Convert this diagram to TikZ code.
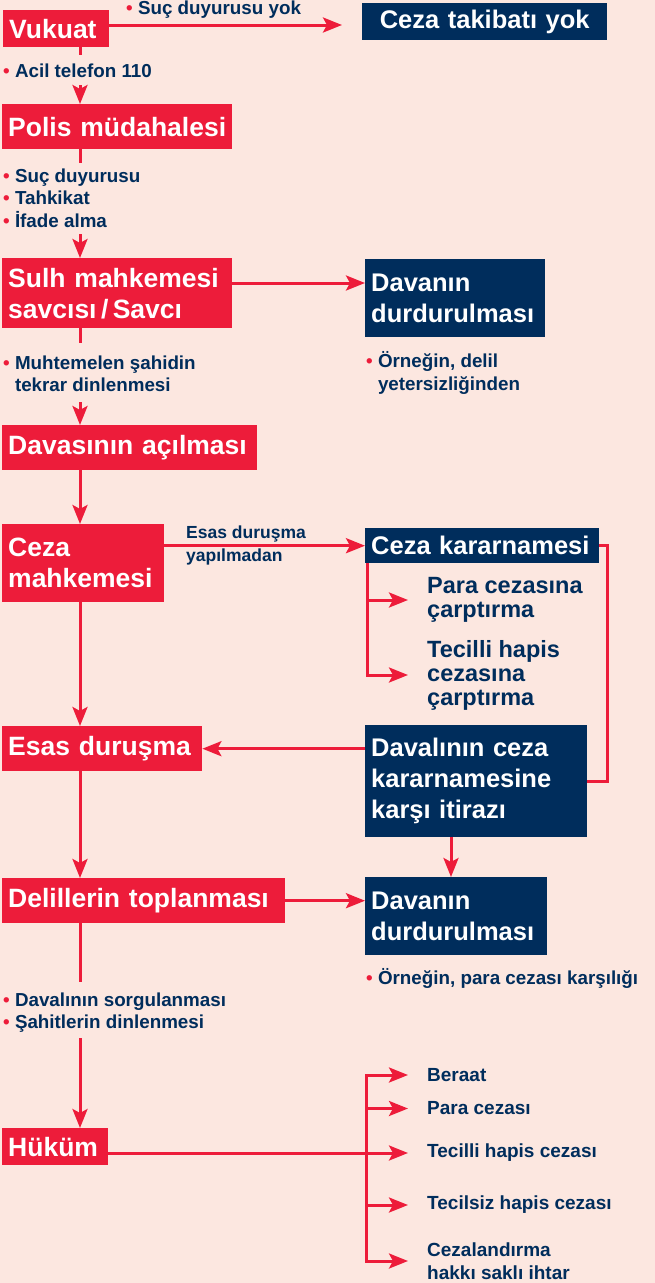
\documentclass[tikz,border=0pt]{standalone}
\usepackage{fontspec}
\setmainfont{Liberation Sans}
\usetikzlibrary{arrows.meta}
\definecolor{cezared}{RGB}{237,28,58}
\definecolor{cezanavy}{RGB}{0,45,92}
\definecolor{cezabg}{RGB}{252,231,224}
\newcommand{\bul}{\textcolor{cezared}{\textbullet}\ }
\tikzset{
  cezatip/.tip={Stealth[length=19pt,width=15pt,inset=4pt]},
  redbox/.style={fill=cezared,text=white,anchor=north west,inner xsep=6pt,inner ysep=0pt,
    align=left,font=\bfseries\fontsize{26.5}{31}\selectfont},
  navybox/.style={redbox,fill=cezanavy,font=\bfseries\fontsize{25.5}{31}\selectfont},
  note/.style={anchor=west,inner sep=0pt,text=cezanavy,align=left,
    font=\bfseries\fontsize{18.8}{22.5}\selectfont},
  result/.style={note,font=\bfseries\fontsize{19}{23}\selectfont},
  bigresult/.style={note,font=\bfseries\fontsize{23.5}{24}\selectfont},
  link/.style={draw=cezared,line width=3pt},
  arr/.style={link,-cezatip},
  arrs/.style={link,cezatip-cezatip}
}
\hyphenpenalty=10000
\begin{document}
\begin{tikzpicture}[x=1pt,y=-1pt]
\useasboundingbox (0,0) rectangle (655,1283);
\fill[cezabg] (0,0) rectangle (655,1283);
% left column
\node[redbox,text width=94pt,minimum height=37pt] (vukuat) at (3,10) {Vukuat};
\node[redbox,text width=218pt,minimum height=45pt] (polis) at (2,104) {Polis müdahalesi};
\node[redbox,text width=218pt,minimum height=70pt] (savci) at (2,258) {Sulh mahkemesi\\savcısı\,/\,Savcı};
\node[redbox,text width=243pt,minimum height=45pt] (acilma) at (2,425) {Davasının açılması};
\node[redbox,text width=150pt,minimum height=78pt] (cezamah) at (2,524) {Ceza\\mahkemesi};
\node[redbox,text width=188pt,minimum height=45pt] (esas) at (2,726) {Esas duruşma};
\node[redbox,text width=271pt,minimum height=45pt] (delil) at (2,878) {Delillerin toplanması};
\node[redbox,text width=94pt,minimum height=37pt] (hukum) at (2,1128) {Hüküm};
% right column
\node[navybox,text width=233pt,minimum height=37pt,align=center] (takibat) at (362,3) {Ceza takibatı yok};
\node[navybox,text width=168pt,minimum height=78pt] (durdur1) at (365,259) {Davanın\\durdurulması};
\node[navybox,text width=222pt,minimum height=35pt] (kararname) at (365,528) {Ceza kararnamesi};
\node[navybox,text width=210pt,minimum height=112pt] (itiraz) at (365,725) {Davalının ceza\\kararnamesine\\karşı itirazı};
\node[navybox,text width=170pt,minimum height=78pt] (durdur2) at (365,877) {Davanın\\durdurulması};
% notes
\node[note] (yok) at (126,10) {\bul Suç duyurusu yok};
\node[note] (acil) at (3,71) {\bul Acil telefon 110};
\node[note] (tahkikat) at (3,198) {\bul Suç duyurusu\\\bul Tahkikat\\\bul İfade alma};
\node[note] (sahit) at (3,374) {\bul Muhtemelen şahidin\\\phantom{\bul}tekrar dinlenmesi};
\node[note] (delilyok) at (366,373) {\bul Örneğin, delil\\\phantom{\bul}yetersizliğinden};
\node[note,font=\bfseries\fontsize{17.5}{23}\selectfont] (yapilmadan) at (186,545) {Esas duruşma\\yapılmadan};
\node[note] (karsilik) at (366,978) {\bul Örneğin, para cezası karşılığı};
\node[note] (sorgu) at (3,1012.5) {\bul Davalının sorgulanması\\\bul Şahitlerin dinlenmesi};
% outcomes
\node[bigresult] (para1) at (427,600) {Para cezasına\\çarptırma};
\node[bigresult] (tecilli1) at (427,675) {Tecilli hapis\\cezasına\\çarptırma};
\node[result] (beraat) at (427,1075) {Beraat};
\node[result] (para2) at (427,1108.5) {Para cezası};
\node[result] (tecilli2) at (427,1153) {Tecilli hapis cezası};
\node[result] (tecilsiz) at (427,1205) {Tecilsiz hapis cezası};
\node[result] (cezalan) at (427,1261) {Cezalandırma\\hakkı saklı ihtar};
% helper points
\coordinate (c1) at (80,55);
\coordinate (c2) at (80,85);
\coordinate (c3) at (80,163);
\coordinate (c4) at (80,234);
\coordinate (c5) at (80,343);
\coordinate (c6) at (80,402);
\coordinate (c7) at (80,982);
\coordinate (c8) at (80,1038);
\coordinate (yokend) at (342,25);
\coordinate (p1) at (0,283);
\coordinate (kb) at (367,0);
\coordinate (ke) at (408,0);
\coordinate (lp) at (607,0);
\coordinate (dx) at (451,0);
\coordinate (hb) at (366,0);
% main line
\draw[link] (vukuat.south -| c1) -- (c1);
\draw[arr] (c2) -- (polis.north -| c2);
\draw[link] (polis.south -| c3) -- (c3);
\draw[arr] (c4) -- (savci.north -| c4);
\draw[link] (savci.south -| c5) -- (c5);
\draw[arr] (c6) -- (acilma.north -| c6);
\draw[arr] (acilma.south -| c6) -- (cezamah.north -| c6);
\draw[arr] (cezamah.south -| c6) -- (esas.north -| c6);
\draw[arr] (esas.south -| c6) -- (delil.north -| c6);
\draw[link] (delil.south -| c7) -- (c7);
\draw[arr] (c8) -- (hukum.north -| c8);
% side branches
\draw[arr] (vukuat.east |- yokend) -- (yokend);
\draw[arr] (savci.east |- p1) -- (durdur1.west |- p1);
\draw[arr] (cezamah.east |- kararname.west) -- (kararname.west);
\draw[arr] (kararname.south -| kb) |- (ke |- tecilli1.west);
\draw[arr] (kb |- para1.west) -- (ke |- para1.west);
\draw[link] (kararname.east) -| (lp |- itiraz.east) -- (itiraz.east);
\draw[arr] (itiraz.west |- esas.east) -- (esas.east);
\draw[arr] (itiraz.south -| dx) -- (durdur2.north -| dx);
\draw[arr] (delil.east) -- (delil.east -| durdur2.west);
\draw[arr] (hukum.east |- tecilli2.west) -- (ke |- tecilli2.west);
\draw[arrs] (ke |- beraat.west) -| (hb |- cezalan.west) -- (ke |- cezalan.west);
\draw[arr] (hb |- para2.west) -- (ke |- para2.west);
\draw[arr] (hb |- tecilsiz.west) -- (ke |- tecilsiz.west);
\end{tikzpicture}
\end{document}
